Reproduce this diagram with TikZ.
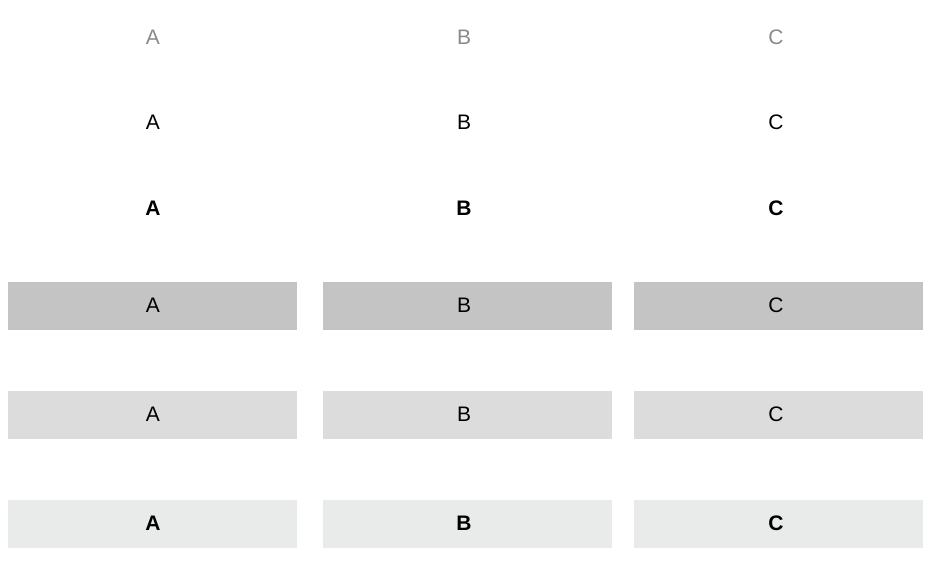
\documentclass[tikz,border=0pt]{standalone}
\usepackage{fontspec}
\setmainfont{Liberation Sans}
\definecolor{boxa}{HTML}{C4C4C4}
\definecolor{boxb}{HTML}{DCDCDC}
\definecolor{boxc}{HTML}{E9EAEA}
\definecolor{lbl}{HTML}{8A8A8A}
\begin{document}
\begin{tikzpicture}[x=1pt,y=-1pt,
  lab/.style={font=\fontsize{21}{25}\selectfont, inner sep=0pt, anchor=center},
  bar/.style={minimum width=289pt, minimum height=48pt, inner sep=0pt, draw=none}]
\useasboundingbox (0,0) rectangle (934,563);
% top text rows
\foreach \t/\x [count=\i] in {A/153,B/464,C/776}{
  \node[lab, text=lbl] (g\i) at (\x,37.5) {\t};
  \node[lab] (n\i) at (\x,122.5) {\t};
  \node[lab, font=\fontsize{21}{25}\selectfont\bfseries] (b\i) at (\x,208.5) {\t};
}
% bars
\foreach \bx/\cx/\t [count=\i] in {152.5/153/A,467.8/464/B,778.8/776/C}{
  \node[bar, fill=boxa] (ra\i) at (\bx,306.3) {};
  \node[bar, fill=boxb] (rb\i) at (\bx,415.3) {};
  \node[bar, fill=boxc] (rc\i) at (\bx,524) {};
  \node[lab] (ta\i) at (\cx,305.5) {\t};
  \node[lab] (tb\i) at (\cx,414.5) {\t};
  \node[lab, font=\fontsize{21}{25}\selectfont\bfseries] (tc\i) at (\cx,523.5) {\t};
}
\end{tikzpicture}
\end{document}
